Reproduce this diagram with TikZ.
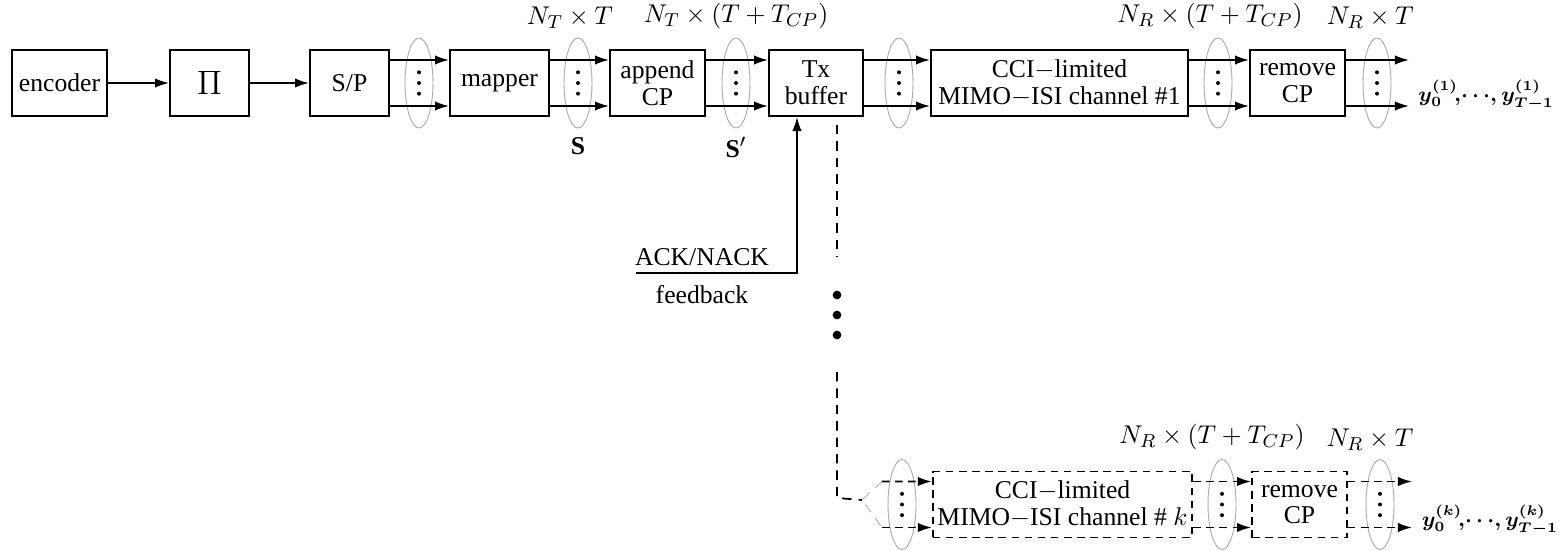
\documentclass[tikz,border=0pt,11pt]{standalone}
\usepackage{fontspec}
\setmainfont{Liberation Serif}
\usetikzlibrary{arrows.meta,positioning,shapes.geometric,calc}

\newcommand{\lsep}{0.345cm}

\begin{document}
\begin{tikzpicture}[
    blk/.style={draw, line width=0.8pt, minimum height=0.99cm, inner sep=2pt,
      align=center, font=\fontsize{10.95pt}{11.4pt}\selectfont},
    dblk/.style={blk, dash pattern=on 3.2pt off 2.4pt},
    ell/.style={ellipse, draw=gray!65, thin, minimum width=0.42cm,
      minimum height=1.35cm, inner sep=0pt,
      path picture={\fill (path picture bounding box.center) circle (0.85pt)
        +(0,0.16) circle (0.85pt) +(0,-0.16) circle (0.85pt);}},
    arr/.style={-{Latex[length=6pt,width=4pt]}, line width=0.75pt},
    darr/.style={arr, dash pattern=on 3.2pt off 2.4pt},
    dsh/.style={line width=0.75pt, dash pattern=on 4pt off 3pt},
    outlbl/.style={anchor=west, inner sep=0pt, font=\footnotesize\boldmath},
  ]
  \useasboundingbox (0,0) rectangle (23.4,-8.25);

  % transmitter chain
  \node[blk, minimum width=1.425cm] (enc)  at (0.8925,-1.245) {encoder};
  \node[blk, minimum width=1.185cm] (pi)   at (3.1425,-1.245) {\Large$\Pi$};
  \node[blk, minimum width=1.185cm] (sp)   at (5.2425,-1.245) {S/P};
  \node[blk, minimum width=1.485cm] (map)  at (7.4925,-1.245) {mapper};
  \node[blk, minimum width=1.425cm] (acp)  at (9.8625,-1.245) {append\\CP};
  \node[blk, minimum width=1.41cm]  (tx)   at (12.24,-1.245) {Tx\\buffer};
  \node[blk, minimum width=3.855cm] (ch1)  at (15.8925,-1.245)
    {CCI$-$limited\\MIMO$-$ISI channel \#1};
  \node[blk, minimum width=1.425cm] (rcp1) at (19.4625,-1.245) {remove\\CP};

  % parallel streams
  \node[ell] (e1) at (6.285,-1.245) {};
  \node[ell] (e2) at (8.67,-1.245) {};
  \node[ell] (e3) at (11.04,-1.245) {};
  \node[ell] (e4) at (13.485,-1.245) {};
  \node[ell] (e5) at (18.27,-1.245) {};
  \node[ell] (e6) at (20.655,-1.245) {};

  \node[above=0pt of e2, xshift=-0.12cm] (dimA) {$N_T\times T$};
  \node[above=0pt of e3] (dimB) {$N_T\times(T+T_{CP})$};
  \node[above=0pt of e5, xshift=-0.12cm] (dimC) {$N_R\times(T+T_{CP})$};
  \node[above=0pt of e6, xshift=-0.1cm] (dimD) {$N_R\times T$};
  \node[below=0pt of e2] (symS) {$\mathbf{S}$};
  \node[below=0pt of e3] (symSp) {$\mathbf{S}'$};

  % arrows
  \draw[arr] (enc) -- (pi);
  \draw[arr] (pi) -- (sp);
  \foreach \p/\q in {sp/map, map/acp, acp/tx, tx/ch1, ch1/rcp1} {
    \draw[arr] ([yshift=\lsep]\p.east) -- ([yshift=\lsep]\q.west);
    \draw[arr] ([yshift=-\lsep]\p.east) -- ([yshift=-\lsep]\q.west);
  }
  \coordinate (o1) at (21.135,-1.245);
  \draw[arr] ([yshift=\lsep]rcp1.east) -- ([yshift=\lsep]o1);
  \draw[arr] ([yshift=-\lsep]rcp1.east) -- ([yshift=-\lsep]o1);
  \node[outlbl] (out1) at (21.27,-1.43)
    {$y_0^{(1)}\!,\!\cdots\!,y_{T-1}^{(1)}$};

  % feedback
  \coordinate (fbl) at (9.54,-4.095);
  \coordinate (fbc) at (11.955,-4.095);
  \draw[arr] (fbl) -- (fbc) -- (fbc |- tx.south);
  \node (ack) at (10.53,-3.855) {ACK/NACK};
  \node (fbk) at (10.53,-4.425) {feedback};

  % branch to channel k
  \coordinate (d0) at (12.555,-1.875);
  \coordinate (d1) at (12.555,-3.855);
  \coordinate (d2) at (12.555,-5.58);
  \coordinate (d3) at (12.555,-7.47);
  \coordinate (fk) at (12.93,-7.5);
  \draw[dsh] (d0) -- (d1);
  \fill (12.555,-4.425) circle (0.065) (12.555,-4.725) circle (0.065)
    (12.555,-5.025) circle (0.065);
  \draw[dsh] (d2) -- (d3) -- (fk);

  \node[dblk, minimum width=3.825cm] (chk) at (15.9375,-7.5675)
    {CCI$-$limited\\MIMO$-$ISI channel \#~$k$};
  \node[dblk, minimum width=1.425cm] (rcpk) at (19.4925,-7.5675) {remove\\CP};
  \node[ell] (e7) at (13.53,-7.5675) {};
  \node[ell] (e8) at (18.33,-7.5675) {};
  \node[ell] (e9) at (20.7,-7.5675) {};
  \node[above=0pt of e8, xshift=-0.15cm] (dimE) {$N_R\times(T+T_{CP})$};
  \node[above=0pt of e9, xshift=-0.15cm] (dimF) {$N_R\times T$};

  \coordinate (fu) at (13.23,-7.2225);
  \coordinate (fd) at (13.23,-7.9125);
  \draw[dsh, gray!60, thin] (fu) -- (fk) -- (fd);
  \draw[darr] (fu) -- ([yshift=\lsep]chk.west);
  \draw[darr] (fd) -- ([yshift=-\lsep]chk.west);
  \draw[darr] ([yshift=\lsep]chk.east) -- ([yshift=\lsep]rcpk.west);
  \draw[darr] ([yshift=-\lsep]chk.east) -- ([yshift=-\lsep]rcpk.west);
  \coordinate (ok) at (21.18,-7.5675);
  \draw[darr] ([yshift=\lsep]rcpk.east) -- ([yshift=\lsep]ok);
  \draw[darr] ([yshift=-\lsep]rcpk.east) -- ([yshift=-\lsep]ok);
  \node[outlbl] (outk) at (21.32,-7.8)
    {$y_0^{(k)}\!,\!\cdots\!,y_{T-1}^{(k)}$};
\end{tikzpicture}
\end{document}
